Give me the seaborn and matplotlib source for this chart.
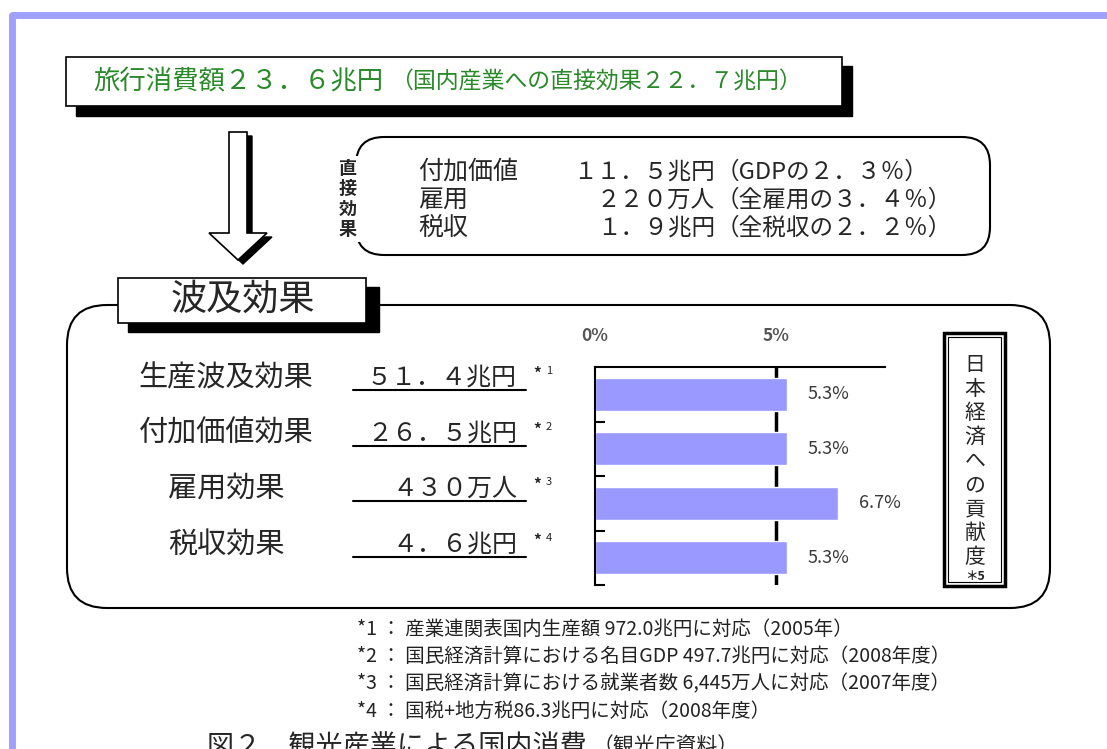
import matplotlib
matplotlib.use('Agg')
import matplotlib.pyplot as plt
from matplotlib.patches import FancyBboxPatch, Rectangle, Polygon
import seaborn as sns
import pandas as pd

# 波及効果
effects = ['生産波及効果', '付加価値効果', '雇用効果', '税収効果']
effect_amounts = ['５１．４兆円', '２６．５兆円', '４３０万人', '４．６兆円']
effect_notes = ['1', '2', '3', '4']
contribution = [5.3, 5.3, 6.7, 5.3]   # 日本経済への貢献度 (%)
pct_labels = ['5.3%', '5.3%', '6.7%', '5.3%']
x_ticks = [0, 5]
x_ticklabels = ['0%', '5%']

# 直接効果
direct_items = ['付加価値', '雇用', '税収']
direct_amounts = ['１１．５兆円', '２２０万人', '１．９兆円']
direct_shares = ['（GDPの２．３％）', '（全雇用の３．４％）', '（全税収の２．２％）']

headline = '旅行消費額２３．６兆円'
headline_sub = '（国内産業への直接効果２２．７兆円）'
ripple_title = '波及効果'
side_label = '日本経済への貢献度'

footnotes = [
    '*1 ： 産業連関表国内生産額 972.0兆円に対応（2005年）',
    '*2 ： 国民経済計算における名目GDP 497.7兆円に対応（2008年度）',
    '*3 ： 国民経済計算における就業者数 6,445万人に対応（2007年度）',
    '*4 ： 国税+地方税86.3兆円に対応（2008年度）',
]
caption = '図２　観光産業による国内消費'
caption_sub = '（観光庁資料）'

sns.set_theme(style='white')
plt.rcParams['font.family'] = ['Noto Sans CJK JP', 'DejaVu Sans']

W, H = 1107, 749
fig = plt.figure(figsize=(W / 100, H / 100), dpi=100, facecolor='white')

# background layer in pixel coordinates
ax = fig.add_axes([0, 0, 1, 1])
ax.set_xlim(0, W)
ax.set_ylim(H, 0)
ax.axis('off')

# lavender frame
ax.plot([11.5, 11.5, W], [H, 15, 15], color='#a0a0ff', lw=5, solid_capstyle='butt')

# headline box with shadow
ax.add_patch(Rectangle((76, 66), 776, 50, color='black', zorder=2))
ax.add_patch(Rectangle((66, 57), 776, 49, fc='white', ec='black', lw=1.2, zorder=3))
green = '#2a8a2a'
t1 = ax.text(93, 82, headline, fontsize=19, color=green, va='center', ha='left', zorder=4)
ax.annotate(headline_sub, xy=(1, 0.5), xycoords=t1, xytext=(5, 0), textcoords='offset points',
            fontsize=16.5, color=green, va='center', ha='left', zorder=4)

# hollow arrow with shadow
arrow = [(229, 132), (247, 132), (247, 233), (267, 233), (238, 260), (209, 233), (229, 233)]
ax.add_patch(Polygon([(x + 5, y + 4) for x, y in arrow], color='black', zorder=2))
ax.add_patch(Polygon(arrow, fc='white', ec='black', lw=1.2, zorder=3))

# direct effect box
ax.add_patch(FancyBboxPatch((356, 137), 634, 118, boxstyle='round,pad=0,rounding_size=28',
                            fc='white', ec='black', lw=1.5, zorder=2))
ax.text(348, 199, '\n'.join('直接効果'), fontsize=13, fontweight='bold', ha='center', va='center',
        linespacing=1.1, zorder=4, bbox=dict(fc='white', ec='none', pad=2))
for y, item, amt, share in zip([172, 200, 228], direct_items, direct_amounts, direct_shares):
    ax.text(418, y, item, fontsize=18, ha='left', va='center', zorder=4)
    ax.text(715, y, amt, fontsize=17, ha='right', va='center', zorder=4)
    ax.text(716, y, share, fontsize=17, ha='left', va='center', zorder=4)

# ripple effect box
ax.add_patch(FancyBboxPatch((67, 305), 983, 303, boxstyle='round,pad=0,rounding_size=40',
                            fc='white', ec='black', lw=1.5, zorder=1))
ax.add_patch(Rectangle((128, 287), 251, 45, color='black', zorder=2))
ax.add_patch(Rectangle((118, 278), 248, 45, fc='white', ec='black', lw=1.2, zorder=3))
ax.text(243, 300, ripple_title, fontsize=26, ha='center', va='center', zorder=4)

rows_y = [378, 434, 489, 545]
for y, name, amt, note in zip(rows_y, effects, effect_amounts, effect_notes):
    ax.text(226, y, name, fontsize=21, ha='center', va='center', zorder=4)
    ax.text(517, y, amt, fontsize=18, ha='right', va='center', zorder=4)
    ax.plot([353, 526], [y + 12, y + 12], color='black', lw=1.5, zorder=4)
    ax.text(533, y - 4, '*', fontsize=11, fontweight='bold', ha='left', va='center', zorder=4)
    ax.text(546, y - 7, note, fontsize=8, ha='left', va='center', zorder=4)

# contribution label box (double border)
ax.add_patch(Rectangle((944, 333), 61, 253, fc='white', ec='black', lw=2.5, zorder=2))
ax.add_patch(Rectangle((948, 337), 53, 245, fill=False, ec='black', lw=0.8, zorder=3))
ax.text(975, 461, '\n'.join(side_label), fontsize=15, ha='center', va='center',
        linespacing=1.12, zorder=4)
ax.text(975, 577, '＊5', fontsize=9, fontweight='bold', ha='center', va='center', zorder=4)

# footnotes and caption
for i, note in enumerate(footnotes):
    ax.text(357, 629 + i * 27.3, note, fontsize=14, color='#222222', ha='left', va='center')
t2 = ax.text(207, 747, caption, fontsize=19.5, ha='left', va='center')
ax.annotate(caption_sub, xy=(1, 0.5), xycoords=t2, xytext=(4, 1), textcoords='offset points',
            fontsize=15, ha='left', va='center')

# bar chart
df = pd.DataFrame({'effect': effects, 'share': contribution})
bx = fig.add_axes([595 / W, (H - 585) / H, 290 / W, 218 / H])
bx.patch.set_alpha(0)
sns.barplot(data=df, x='share', y='effect', orient='h', color='#9999ff', saturation=1,
            width=0.6, ax=bx, zorder=2)
bx.axvline(5, color='black', lw=2.5, zorder=1)
bx.bar_label(bx.containers[0], labels=pct_labels, padding=15, fontsize=13, color='#3a3a3a')
bx.set_xlim(0, 8)
bx.set_ylim(3.5, -0.5)
bx.set_xlabel('')
bx.set_ylabel('')
bx.xaxis.tick_top()
bx.set_xticks(x_ticks, x_ticklabels)
bx.tick_params(axis='x', length=0, pad=16, labelsize=12.5, labelcolor='#555555')
for lbl in bx.get_xticklabels():
    lbl.set_fontweight('bold')
bx.set_yticks([])
bx.set_yticks([0.5, 1.5, 2.5, 3.5], minor=True)
bx.tick_params(axis='y', which='minor', left=True, direction='in', length=7, width=1.5, color='black')
for side in ['bottom', 'right']:
    bx.spines[side].set_visible(False)
for side in ['top', 'left']:
    bx.spines[side].set_color('black')
    bx.spines[side].set_linewidth(1.5)

fig.savefig('out.png', dpi=100)
